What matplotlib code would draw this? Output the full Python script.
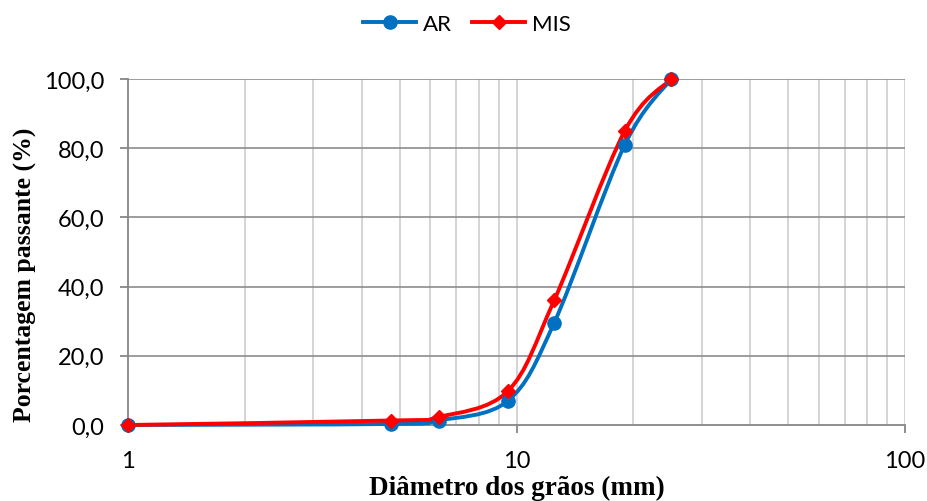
import numpy as np
import matplotlib.pyplot as plt
from matplotlib.path import Path
from matplotlib.patches import PathPatch
from matplotlib.lines import Line2D
from matplotlib.ticker import FixedLocator, NullFormatter, FuncFormatter

# sieve sizes (mm) and percent passing
diam = [1, 4.75, 6.3, 9.5, 12.5, 19, 25]
ar = [0.0, 0.3, 1.3, 7.0, 29.5, 81.0, 100.0]
mis = [0.0, 1.3, 2.3, 9.8, 36.0, 85.0, 100.0]

blue = '#0070C0'
red = '#FF0000'
label_font = 'Liberation Serif'
tick_font = 'Lato'


def smooth_path(xs, ys, t=1/6):
    # Excel-like smoothed line as cubic bezier segments (in log-x space)
    x = np.log10(xs)
    y = np.asarray(ys, float)
    n = len(x)
    verts = [(x[0], y[0])]
    codes = [Path.MOVETO]
    for i in range(n - 1):
        p0 = (x[max(i - 1, 0)], y[max(i - 1, 0)])
        p1 = (x[i], y[i])
        p2 = (x[i + 1], y[i + 1])
        p3 = (x[min(i + 2, n - 1)], y[min(i + 2, n - 1)])
        c1 = (p1[0] + (p2[0] - p0[0]) * t, p1[1] + (p2[1] - p0[1]) * t)
        c2 = (p2[0] - (p3[0] - p1[0]) * t, p2[1] - (p3[1] - p1[1]) * t)
        verts += [c1, c2, p2]
        codes += [Path.CURVE4] * 3
    return Path(verts, codes)


fig = plt.figure(figsize=(9.27, 5.02), dpi=100, facecolor='w')
ax = fig.add_axes([128/927, 1 - 426/502, (905-128)/927, (426-80)/502])
ax.set_xscale('log')
ax.set_xlim(1, 100)
ax.set_ylim(0, 100)

# grid
minor = [m * 10**e for e in range(0, 2) for m in range(2, 10)] + [10, 100]
for v in minor:
    ax.axvline(v, color='#CDCDCD', lw=1.2, zorder=1)
for h in range(20, 101, 20):
    ax.axhline(h, color='#8C8C8C', lw=1.2, zorder=1)

for s in ['top', 'right']:
    ax.spines[s].set_visible(False)
for s in ['left', 'bottom']:
    ax.spines[s].set_color('#868686')
    ax.spines[s].set_linewidth(1.3)

ax.xaxis.set_major_locator(FixedLocator([1, 10, 100]))
ax.xaxis.set_minor_locator(FixedLocator([]))
ax.xaxis.set_minor_formatter(NullFormatter())
ax.xaxis.set_major_formatter(FuncFormatter(lambda v, p: '%d' % v))
ax.set_yticks(range(0, 101, 20))
ax.yaxis.set_major_formatter(FuncFormatter(lambda v, p: ('%.1f' % v).replace('.', ',')))
ax.tick_params(axis='both', length=6, width=1.3, color='#868686', direction='out',
               labelsize=17)
ax.tick_params(axis='x', pad=12)
ax.tick_params(axis='y', pad=11)
for lab in ax.get_xticklabels() + ax.get_yticklabels():
    lab.set_family(tick_font)

tr = ax.transLimits + ax.transAxes
for ys, col, mk, ms in [(ar, blue, 'o', 9.5), (mis, red, 'D', 7)]:
    ax.add_patch(PathPatch(smooth_path(diam, ys), fc='none', ec=col, lw=2.8,
                           transform=tr, zorder=3, clip_on=False))
    ax.plot(diam, ys, ls='none', marker=mk, ms=ms, color=col, zorder=4, clip_on=False)

ax.set_xlabel('Diâmetro dos grãos (mm)', family=label_font, weight='bold',
              fontsize=19.5, labelpad=3)
ax.set_ylabel('Porcentagem passante (%)', family=label_font, weight='bold',
              fontsize=18.5)
ax.yaxis.set_label_coords(-0.117, 0.436)

handles = [Line2D([], [], color=blue, lw=2.8, marker='o', ms=9.5),
           Line2D([], [], color=red, lw=2.8, marker='D', ms=7)]
fig.legend(handles, ['AR', 'MIS'], loc='center', bbox_to_anchor=(467/927, 1 - 25/502),
           ncol=2, frameon=False, prop={'family': tick_font, 'size': 16},
           handlelength=2.4, handletextpad=0.3, columnspacing=0.9)

plt.savefig('out.png', dpi=100)
